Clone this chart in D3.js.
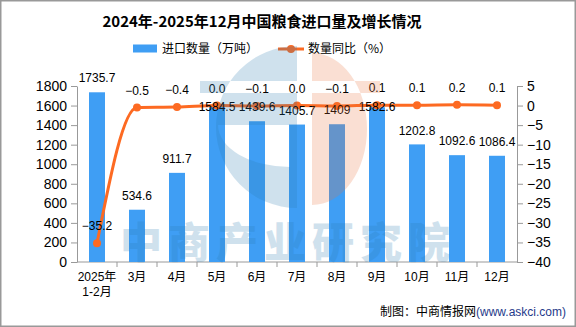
<!DOCTYPE html>
<html>
<head>
<meta charset="utf-8">
<script src="https://cdn.jsdelivr.net/npm/d3@7"></script>
<style>
  html, body { margin: 0; padding: 0; background: #fff; }
  svg { display: block; }
  text { font-family: "Liberation Sans", "Noto Sans CJK SC", sans-serif; }
</style>
</head>
<body>
<div id="chart"></div>
<script>
// 2025年各月粮食进口量（万吨）与同比（%）
var months = ["2025年\n1-2月", "3月", "4月", "5月", "6月", "7月", "8月", "9月", "10月", "11月", "12月"];
var imports = [1735.7, 534.6, 911.7, 1584.5, 1439.6, 1405.7, 1409, 1582.6, 1202.8, 1092.6, 1086.4];
var yoy = [-35.2, -0.5, -0.4, 0.0, -0.1, 0.0, -0.1, 0.1, 0.1, 0.2, 0.1];
var leftTicks = d3.range(0, 1801, 200);
var rightTicks = d3.range(-40, 6, 5);

var W = 576, H = 327;
var m = { top: 86, right: 59, bottom: 65, left: 77 };
var barColor = "#3f9ef4", lineColor = "#fd6a22", axisColor = "#999";

var svg = d3.select("#chart").append("svg")
    .attr("width", W)
    .attr("height", H);

// frame
svg.append("rect")
    .attr("x", 0.75).attr("y", 0.75)
    .attr("width", W - 1.5).attr("height", H - 1.5)
    .attr("fill", "#fff")
    .attr("stroke", "#999")
    .attr("stroke-width", 1.5);

svg.append("text")
    .attr("x", 262).attr("y", 27)
    .attr("text-anchor", "middle")
    .style("font-family", "'Noto Sans CJK SC', sans-serif")
    .style("font-weight", "bold")
    .style("font-size", "15px")
    .text("2024年-2025年12月中国粮食进口量及增长情况");

// legend
var lg = svg.append("g").style("font-size", "12px");
lg.append("rect").attr("x", 133).attr("y", 44.5).attr("width", 24).attr("height", 8).attr("fill", barColor);
lg.append("text").attr("x", 162).attr("y", 53).text("进口数量（万吨）")
    .style("font-family", "'Noto Sans CJK SC', sans-serif");
lg.append("line").attr("x1", 278).attr("x2", 304).attr("y1", 49).attr("y2", 49)
    .attr("stroke", lineColor).attr("stroke-width", 3);
lg.append("circle").attr("cx", 291).attr("cy", 49).attr("r", 4).attr("fill", lineColor);
lg.append("text").attr("x", 308).attr("y", 53).text("数量同比（%）")
    .style("font-family", "'Noto Sans CJK SC', sans-serif");

var x = d3.scaleBand()
    .domain(months)
    .range([m.left, W - m.right]);

var yL = d3.scaleLinear().domain([0, 1800]).range([H - m.bottom, m.top]);
var yR = d3.scaleLinear().domain([-40, 5]).range([H - m.bottom, m.top]);

var cx = function(i) { return x(months[i]) + x.bandwidth() / 2; };

// axes
var gL = svg.append("g")
    .attr("transform", "translate(" + m.left + ",0)")
    .call(d3.axisLeft(yL).tickValues(leftTicks).tickFormat(d3.format("d"))
        .tickSize(6).tickSizeOuter(0).tickPadding(4));
var gR = svg.append("g")
    .attr("transform", "translate(" + (W - m.right) + ",0)")
    .call(d3.axisRight(yR).tickValues(rightTicks).tickSize(6).tickSizeOuter(0).tickPadding(4));
[gL, gR].forEach(function(g) {
    g.select(".domain").attr("stroke", axisColor);
    g.selectAll(".tick line").attr("stroke", axisColor);
    g.selectAll(".tick text").attr("fill", "#000")
        .style("font-size", "14px")
        .style("font-family", "'Liberation Sans', sans-serif");
});

var gX = svg.append("g").attr("transform", "translate(0," + (H - m.bottom) + ")");
gX.append("line")
    .attr("x1", m.left).attr("x2", W - m.right)
    .attr("stroke", axisColor);
gX.selectAll(".tk")
    .data(months.slice(1))
    .enter().append("line")
    .attr("x1", function(d) { return x(d); })
    .attr("x2", function(d) { return x(d); })
    .attr("y1", 0).attr("y2", 5)
    .attr("stroke", axisColor);
var xl = gX.selectAll(".xl")
    .data(months)
    .enter().append("text")
    .attr("text-anchor", "middle")
    .style("font-size", "12px")
    .attr("transform", function(d, i) { return "translate(" + cx(i) + ",19)"; });
xl.selectAll("tspan")
    .data(function(d) { return d.split("\n"); })
    .enter().append("tspan")
    .attr("x", 0)
    .attr("dy", function(d, j) { return j ? 15 : 0; })
    .text(function(d) { return d; });

// bars
var bw = 16;
svg.append("g").selectAll("rect")
    .data(imports)
    .enter().append("rect")
    .attr("x", function(d, i) { return cx(i) - bw / 2; })
    .attr("y", function(d) { return yL(d); })
    .attr("width", bw)
    .attr("height", function(d) { return yL(0) - yL(d); })
    .attr("fill", barColor);

// yoy line
var line = d3.line()
    .x(function(d, i) { return cx(i); })
    .y(function(d) { return yR(d); })
    .curve(d3.curveMonotoneX);

svg.append("path")
    .datum(yoy)
    .attr("d", line)
    .attr("fill", "none")
    .attr("stroke", lineColor)
    .attr("stroke-width", 3);

svg.append("g").selectAll("circle")
    .data(yoy)
    .enter().append("circle")
    .attr("cx", function(d, i) { return cx(i); })
    .attr("cy", function(d) { return yR(d); })
    .attr("r", 4)
    .attr("fill", lineColor);

// value labels; a bar label that would sit on the yoy label drops to the bar top
var lineLabelY = yoy.map(function(d) { return yR(d) - 17; });
var barLabelY = imports.map(function(d, i) {
    var c = yL(d) - 14;
    return Math.abs(c - lineLabelY[i]) < 12 ? yL(d) : c;
});

var labels = svg.append("g").style("font-size", "12px").attr("text-anchor", "middle");
labels.selectAll(".bl")
    .data(imports)
    .enter().append("text")
    .attr("x", function(d, i) { return cx(i); })
    .attr("y", function(d, i) { return barLabelY[i]; })
    .attr("dy", "0.35em")
    .text(function(d) { return d; });
labels.selectAll(".ll")
    .data(yoy)
    .enter().append("text")
    .attr("x", function(d, i) { return cx(i); })
    .attr("y", function(d, i) { return lineLabelY[i]; })
    .attr("dy", "0.35em")
    .text(function(d) { return d3.format(".1f")(d); });

// watermark
var wm = svg.append("g").attr("opacity", 0.22).style("pointer-events", "none");
wm.append("path")
    .attr("fill", "#297bb1")
    .attr("fill-rule", "evenodd")
    .attr("d", "M297,46 A81,81 0 0 0 297,208 Z" +
        " M290,125 L218,125 A72,42 0 0 0 290,167 Z" +
        " M200,81 H297 V93 H200 Z");
wm.append("path")
    .attr("fill", "#ec723b")
    .attr("fill-rule", "evenodd")
    .attr("d", "M312,53 A55,76 0 0 1 312,205 Z M312,81 H380 V93 H312 Z");
wm.append("text")
    .attr("x", 288).attr("y", 258)
    .attr("text-anchor", "middle")
    .attr("fill", "#297bb1")
    .style("font-family", "'Noto Sans CJK SC', sans-serif")
    .style("font-weight", "900")
    .style("font-size", "42px")
    .style("letter-spacing", "6px")
    .text("中商产业研究院");

// source
var src = svg.append("text")
    .attr("x", 566).attr("y", 316)
    .attr("text-anchor", "end")
    .style("font-size", "12px");
src.append("tspan").text("制图：中商情报网")
    .style("font-family", "'Noto Sans CJK SC', sans-serif");
src.append("tspan").attr("fill", "#1f3a8a").text("(www.askci.com)");
</script>
</body>
</html>
